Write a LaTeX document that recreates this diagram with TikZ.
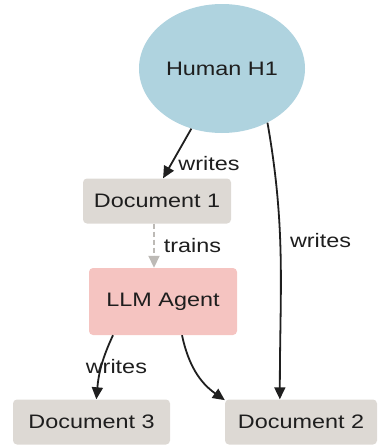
\documentclass[tikz,border=0pt]{standalone}
\usepackage{fontspec}
\setmainfont{Liberation Sans}[FakeStretch=1.2]
\usetikzlibrary{shapes.geometric,arrows.meta,calc}
\definecolor{humanblue}{HTML}{AFD3DF}
\definecolor{docgray}{HTML}{DDD9D4}
\definecolor{llmpink}{HTML}{F5C4C1}
\definecolor{dashgray}{HTML}{BDBAB6}
\definecolor{txt}{HTML}{1E1E1E}
\begin{document}
\begin{tikzpicture}[x=1pt,y=-1pt,
  every node/.style={font=\fontsize{19.5}{22}\selectfont, text=txt},
  human/.style={ellipse, fill=humanblue, minimum width=166pt, minimum height=129pt, inner sep=0pt},
  docbox/.style={rectangle, rounded corners=4pt, fill=docgray, minimum height=45pt, inner sep=0pt},
  llmbox/.style={rectangle, rounded corners=4pt, fill=llmpink, minimum width=148pt, minimum height=67pt, inner sep=0pt},
  arr/.style={line width=1.8pt, draw=black!88, -{Triangle[length=12pt,width=11pt]}},
  dasharr/.style={line width=1.8pt, draw=dashgray, dash pattern=on 5pt off 3pt, -{Triangle[length=12pt,width=11pt]}},
  lbl/.style={inner sep=0pt}
]
\useasboundingbox (0,0) rectangle (378,447);
\node[human] (h) at (222,68.5) {Human H1};
\node[docbox, minimum width=148pt] (d1) at (157,201) {Document 1};
\node[llmbox] (llm) at (163,301.5) {LLM Agent};
\node[docbox, minimum width=157pt] (d3) at (91.5,422) {Document 3};
\node[docbox, minimum width=152pt] (d2) at (301,422) {Document 2};

\draw[arr] (h.243) -- (d1.75) node[lbl, pos=0.7, anchor=west, xshift=6pt] {writes};
\draw[arr] (h.310) to[out=-80, in=90] node[lbl, pos=0.42, anchor=west, xshift=9pt] {writes} (d2.133);
\draw[dasharr] ([xshift=-3pt]d1.south) -- ([xshift=-3pt]d1.south |- llm.north) node[lbl, midway, anchor=west, xshift=9pt] {trains};
\draw[arr] ([xshift=-50pt]llm.south) to[out=-115, in=85] node[lbl, pos=0.5, xshift=15pt] {writes} (d3.78);
\draw[arr] ([xshift=19pt]llm.south) to[out=-78, in=145] (d2.164);
\end{tikzpicture}
\end{document}
